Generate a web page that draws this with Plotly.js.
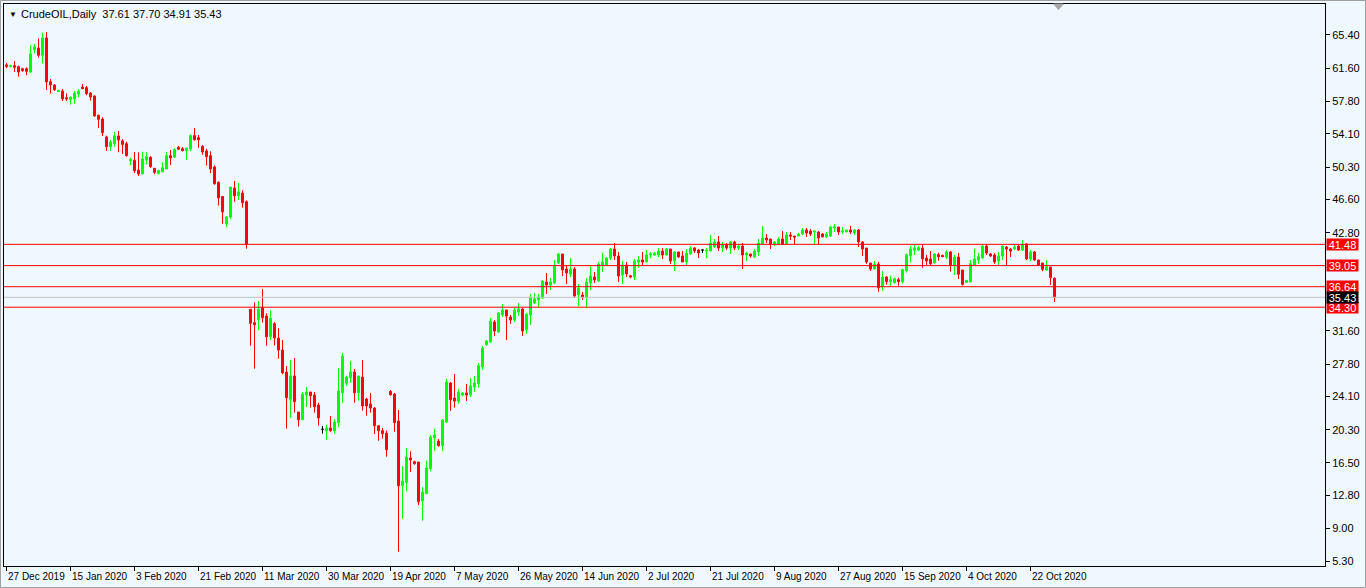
<!DOCTYPE html>
<html><head><meta charset="utf-8">
<script src="https://cdn.plot.ly/plotly-3.0.1.min.js"></script>
<style>html,body{margin:0;padding:0;background:#F0F8FF;overflow:hidden}#chart{width:1366px;height:588px}</style>
</head><body><div id="chart"></div>
<script>
const symbol = 'CrudeOIL,Daily';
const open = [
62.00,61.80,61.90,61.78,61.55,61.55,61.17,63.72,63.91,63.08,
65.06,60.06,59.69,58.95,59.00,58.24,58.05,58.09,58.66,59.46,
59.38,58.77,58.43,56.22,55.80,53.75,52.64,52.98,53.86,53.30,
52.98,51.05,51.08,49.97,49.52,51.12,51.43,50.17,49.60,49.78,
50.09,51.61,51.43,52.57,52.41,52.18,52.37,53.90,53.67,52.68,
52.15,51.61,50.32,48.57,46.95,43.84,44.60,47.92,47.04,47.35,
46.35,34.06,32.53,32.88,34.24,33.30,30.93,32.41,30.78,29.41,
26.89,23.77,26.44,22.32,21.44,24.27,24.61,24.27,23.12,20.35,
20.19,20.50,20.19,21.11,24.53,25.60,26.24,26.89,24.53,26.32,
23.81,23.24,22.78,20.76,20.19,19.92,24.69,24.38,21.30,13.90,
14.25,17.07,16.65,16.61,12.19,12.99,15.85,19.39,19.01,18.48,
21.18,25.64,23.92,23.58,24.27,24.50,24.27,25.18,25.56,27.47,
30.01,30.32,32.61,31.47,33.41,33.98,33.18,32.84,33.75,34.09,
31.69,33.41,34.78,35.12,35.35,37.18,36.84,37.06,39.35,40.38,
38.66,38.09,38.66,35.69,35.69,35.43,37.06,37.75,37.29,39.12,
39.12,39.92,40.95,40.15,37.98,39.12,37.90,37.75,39.46,39.69,
39.46,40.26,40.26,40.26,40.72,40.26,40.95,39.58,40.61,40.15,
39.46,40.38,41.06,40.83,40.83,40.72,40.72,41.18,41.75,41.06,
41.41,41.06,41.75,41.06,41.29,40.26,40.38,40.03,40.61,41.52,
42.20,42.09,41.52,41.52,42.09,41.52,42.55,42.43,42.43,42.66,
43.12,43.00,42.89,42.89,42.66,42.32,42.43,43.35,43.46,42.89,
42.89,43.12,42.78,43.12,41.75,41.06,39.35,38.66,39.24,36.64,
37.75,37.22,37.10,37.44,37.22,38.47,40.18,40.83,40.83,41.06,
39.92,39.81,39.35,40.30,40.22,40.03,40.61,39.12,40.03,38.55,
37.14,37.18,39.12,39.69,39.92,41.29,40.38,40.26,39.58,40.15,
41.18,40.95,40.95,41.29,40.83,41.52,39.81,40.61,39.69,39.35,
38.55,38.89,37.61];
const high = [
62.20,62.00,62.43,61.90,61.65,61.70,64.22,64.37,65.00,65.66,
65.74,60.37,59.80,59.15,59.23,58.74,58.40,59.00,59.20,59.80,
59.57,58.89,58.50,56.30,56.00,53.90,53.40,54.32,54.43,53.50,
53.20,51.40,52.03,52.00,52.07,52.00,51.55,50.20,50.00,50.85,
52.05,52.26,52.45,52.70,52.60,52.49,54.05,54.77,53.97,52.80,
52.40,52.11,50.50,48.65,47.00,44.68,48.03,48.72,48.49,47.66,
46.50,34.10,34.86,35.01,36.38,33.60,33.94,32.60,31.89,30.55,
27.58,28.27,28.49,22.32,24.61,25.18,24.61,24.61,23.39,20.73,
20.84,21.87,21.52,27.35,29.07,26.47,28.15,27.24,26.44,28.27,
23.95,24.50,22.90,20.76,20.50,20.20,24.84,24.50,22.55,16.15,
18.21,17.84,16.76,16.61,13.76,16.76,19.70,20.38,19.24,21.49,
26.10,25.75,26.67,24.95,24.60,25.52,26.21,26.44,27.92,29.87,
30.55,33.06,32.84,33.75,34.66,33.98,33.41,34.21,34.78,34.21,
33.64,35.81,35.92,35.81,37.41,38.21,37.64,39.69,40.49,40.38,
39.01,39.92,38.89,36.95,36.04,37.64,39.01,38.32,39.46,40.49,
40.03,41.06,41.63,40.61,39.58,39.46,38.00,39.81,40.15,40.61,
40.83,40.60,40.60,41.06,41.06,41.06,40.95,40.70,40.61,40.72,
40.95,41.29,41.18,40.95,40.83,41.06,42.55,42.09,42.43,41.75,
41.63,41.86,41.90,41.50,41.63,40.60,40.38,40.95,42.09,43.58,
42.66,42.09,41.86,42.32,43.00,42.89,42.89,42.43,42.78,43.35,
43.35,43.23,43.00,43.00,42.78,42.89,43.58,43.80,43.46,43.46,
43.12,43.58,43.23,43.23,41.86,41.06,39.35,39.58,39.46,38.44,
37.86,37.90,37.67,37.67,38.70,40.41,41.29,41.41,41.29,41.41,
40.26,40.72,40.49,40.53,40.30,40.83,40.72,40.26,40.49,38.55,
37.40,39.69,40.95,40.49,41.41,41.52,40.49,40.49,40.61,41.29,
41.29,41.06,41.41,41.41,41.98,41.63,40.83,40.72,39.69,39.35,
39.69,38.89,37.70];
const low = [
61.60,61.70,61.17,60.64,61.20,60.80,61.10,63.30,62.80,62.17,
59.12,58.70,59.00,58.90,57.86,57.86,57.44,57.55,58.28,59.20,
58.51,57.90,56.07,54.77,53.86,52.15,52.15,52.64,52.00,51.80,
51.50,50.50,49.63,49.29,49.50,50.60,50.20,49.50,49.45,49.70,
50.09,50.55,51.40,52.30,52.10,51.12,52.15,53.33,52.52,51.72,
50.47,49.63,48.30,45.90,43.84,43.46,44.38,46.35,46.55,45.67,
40.98,29.90,27.27,31.69,32.53,29.90,30.55,29.94,28.41,26.63,
20.42,21.67,22.25,20.65,21.44,22.90,22.82,22.25,20.76,19.85,
19.16,20.07,19.85,20.61,23.39,25.33,25.67,23.39,23.62,22.48,
21.90,22.25,19.81,19.04,19.27,17.22,24.19,20.07,6.36,10.13,
13.26,15.47,16.30,11.70,9.90,12.99,15.55,17.90,18.36,17.90,
21.07,22.44,22.82,23.27,24.10,23.58,24.04,24.61,25.10,27.16,
29.90,30.21,31.01,31.35,33.18,30.55,32.38,32.61,33.29,31.01,
31.24,32.27,34.66,34.32,35.24,35.81,36.26,36.95,39.24,37.86,
36.95,37.75,35.35,34.44,35.12,34.29,36.26,37.06,37.18,38.32,
39.01,39.69,39.69,37.18,36.95,37.75,37.60,37.41,38.78,39.12,
39.46,39.90,40.20,40.03,39.81,40.20,39.24,38.44,39.95,39.46,
39.12,40.26,40.49,39.92,40.49,39.92,40.72,41.06,40.72,40.61,
40.83,40.38,40.83,40.83,38.66,39.58,39.95,39.92,40.15,41.52,
41.63,40.95,41.30,41.40,41.40,41.52,41.98,41.52,42.43,42.55,
42.32,42.43,41.52,41.52,42.32,42.20,42.32,42.89,42.55,42.66,
42.89,42.66,42.55,41.18,40.15,39.24,38.44,38.66,36.07,36.19,
36.87,36.76,36.99,36.76,36.99,38.24,39.39,40.26,40.72,38.81,
39.12,39.12,39.35,39.62,40.07,39.81,38.36,37.98,37.52,36.76,
37.10,37.18,39.12,39.24,39.81,40.26,40.03,39.24,39.12,39.69,
39.12,40.03,40.83,40.72,40.72,39.69,39.58,39.58,39.01,38.40,
38.47,36.84,34.91];
const close = [
61.80,61.90,61.70,61.17,61.32,61.25,63.23,64.03,63.08,65.06,
60.03,59.69,59.15,59.05,58.09,58.09,58.28,58.77,58.97,59.27,
58.70,58.32,56.15,55.77,54.24,52.64,53.17,53.86,53.40,52.90,
51.61,51.15,49.89,49.52,51.23,51.50,50.35,49.71,49.90,50.24,
51.61,51.38,52.30,52.34,52.18,52.49,53.90,53.44,53.44,52.03,
51.50,50.09,48.41,46.78,45.18,44.60,48.03,47.04,47.46,46.24,
41.48,32.46,32.30,34.06,33.10,30.93,33.03,30.78,29.41,26.81,
23.96,26.44,23.50,21.44,24.38,24.61,24.19,22.90,21.64,20.35,
20.50,20.19,21.18,24.72,28.72,26.32,26.89,24.53,26.44,23.01,
23.01,22.78,20.76,20.19,19.85,18.01,24.30,21.11,13.90,14.44,
17.18,16.84,16.42,12.07,13.18,15.93,19.47,19.70,18.48,21.41,
25.75,23.73,23.58,24.61,24.50,24.27,25.30,25.64,27.62,29.64,
30.44,32.72,31.58,33.64,33.98,33.29,32.84,33.98,34.09,31.58,
33.52,35.46,35.24,35.46,37.29,36.84,37.18,39.01,40.38,38.55,
38.21,38.66,35.58,36.49,35.46,37.18,37.86,37.41,39.24,39.46,
39.92,40.95,40.15,37.86,39.12,38.09,37.75,39.58,39.69,39.46,
40.26,40.38,40.49,40.72,40.26,40.95,39.58,40.61,40.03,39.46,
40.49,41.06,40.72,40.49,40.83,40.83,41.63,41.75,41.06,41.41,
41.06,41.75,41.06,41.29,40.26,40.49,40.15,40.72,41.63,42.20,
41.98,41.52,41.75,42.09,41.52,42.55,42.43,42.32,42.66,43.12,
42.78,42.66,43.00,42.20,42.32,42.66,43.46,43.46,42.89,43.00,
43.12,42.89,43.12,41.75,40.95,39.46,38.66,39.24,36.53,37.75,
37.22,37.44,37.56,37.22,38.59,40.30,40.95,41.06,41.10,39.81,
39.58,39.27,40.38,40.07,40.07,40.61,39.12,40.03,38.06,36.91,
37.37,39.27,39.81,40.07,41.29,40.49,40.15,39.46,40.15,41.29,
40.95,40.72,41.18,40.83,41.41,39.81,40.61,39.69,39.12,38.63,
38.93,37.67,35.43];
const dateLabels = ['27 Dec 2019','15 Jan 2020','3 Feb 2020','21 Feb 2020','11 Mar 2020','30 Mar 2020','19 Apr 2020','7 May 2020','26 May 2020','14 Jun 2020','2 Jul 2020','21 Jul 2020','9 Aug 2020','27 Aug 2020','15 Sep 2020','4 Oct 2020','22 Oct 2020'];
const dateLabelStep = 16;
const priceTicks = ['65.40','61.60','57.80','54.10','50.30','46.60','42.80','31.60','27.80','24.10','20.30','16.50','12.80','9.00','5.30'];
const levelLines = [41.48, 39.05, 36.64, 34.30];
const bidPrice = 35.43;

const idx = open.map((_, i) => i);
const last = open.length - 1;
function candles(filter, color) {
  const ids = idx.filter(filter);
  return {
    type: 'candlestick', x: ids,
    open: ids.map(i => open[i]), high: ids.map(i => high[i]),
    low: ids.map(i => low[i]), close: ids.map(i => close[i]),
    increasing: {line: {color: color, width: 1}, fillcolor: color},
    decreasing: {line: {color: color, width: 1}, fillcolor: color},
    whiskerwidth: 0, hoverinfo: 'skip', showlegend: false
  };
}
const traces = [
  candles(i => close[i] > open[i], '#00FF00'),
  candles(i => close[i] < open[i], '#FF0000'),
  candles(i => close[i] === open[i], '#000000')
];

const labelIdx = dateLabels.map((_, k) => k * dateLabelStep);
const font = 'Tahoma, "Liberation Sans", Arial, sans-serif';

const shapes = levelLines.map(v => ({type: 'line', xref: 'paper', yref: 'y', x0: 0, x1: 1, y0: v, y1: v, line: {color: '#FF0000', width: 1}}));
shapes.push({type: 'line', xref: 'paper', yref: 'y', x0: 0, x1: 1, y0: bidPrice, y1: bidPrice, line: {color: '#C0C0C0', width: 1}});
shapes.push({type: 'path', xref: 'x', yref: 'paper', path: 'M 261.8,1 L 264.2,1 L 263,0.99 Z', fillcolor: '#A8A8A8', line: {color: '#A8A8A8', width: 1}});
shapes.push({type: 'rect', xref: 'paper', yref: 'paper', x0: -3.5/1321, x1: 1361.5/1321, y0: -21.5/562, y1: 565.5/562, line: {color: '#A0A0A0', width: 1}, layer: 'below'});

const annotations = [];
dateLabels.forEach((t, k) => annotations.push({xref: 'x', yref: 'paper', x: labelIdx[k], y: 0, xanchor: 'left', yanchor: 'top', yshift: -3, xshift: -1, text: t, showarrow: false, font: {family: font, size: 10, color: '#000'}}));
levelLines.forEach(v => annotations.push({xref: 'paper', yref: 'y', x: 1, y: v, xanchor: 'left', yanchor: 'middle', xshift: 1, text: v.toFixed(2), showarrow: false, bgcolor: '#FF0000', borderpad: 0, width: 31, height: 11, font: {family: font, size: 11, color: '#FFFFFF'}}));
annotations.push({xref: 'paper', yref: 'y', x: 1, y: bidPrice, xanchor: 'left', yanchor: 'middle', xshift: 1, text: bidPrice.toFixed(2), showarrow: false, bgcolor: '#000000', borderpad: 0, width: 31, height: 11, font: {family: font, size: 11, color: '#FFFFFF'}});
annotations.push({xref: 'paper', yref: 'paper', x: 0, y: 1, xanchor: 'left', yanchor: 'top', xshift: 3, yshift: -4, text: '▼', showarrow: false, font: {family: font, size: 8, color: '#000'}});
annotations.push({xref: 'paper', yref: 'paper', x: 0, y: 1, xanchor: 'left', yanchor: 'top', xshift: 15, yshift: -2,
  text: symbol + '  ' + [open[last], high[last], low[last], close[last]].map(v => v.toFixed(2)).join(' '),
  showarrow: false, font: {family: font, size: 11, color: '#000'}});

const layout = {
  width: 1366, height: 588,
  margin: {l: 4, r: 41, t: 4, b: 22, pad: 0},
  paper_bgcolor: '#F0F8FF', plot_bgcolor: '#F0F8FF',
  font: {family: font, size: 11, color: '#000'},
  showlegend: false, hovermode: false,
  boxgap: 0.3, boxgroupgap: 0.3,
  xaxis: {range: [-0.625, 329.625], rangeslider: {visible: false}, showgrid: false, zeroline: false,
    showline: true, mirror: true, linecolor: '#000', linewidth: 1, ticks: 'outside', ticklen: 4, tickcolor: '#000',
    tickvals: labelIdx, showticklabels: false, fixedrange: true},
  yaxis: {side: 'right', range: [4.73, 68.94], showgrid: false, zeroline: false,
    showline: true, mirror: true, linecolor: '#000', linewidth: 1, ticks: 'outside', ticklen: 4, tickcolor: '#000',
    tickvals: priceTicks.map(Number), ticktext: priceTicks, tickfont: {family: font, size: 11, color: '#000'}, fixedrange: true},
  shapes: shapes, annotations: annotations
};
Plotly.newPlot('chart', traces, layout, {displayModeBar: false, staticPlot: true});
</script></body></html>
